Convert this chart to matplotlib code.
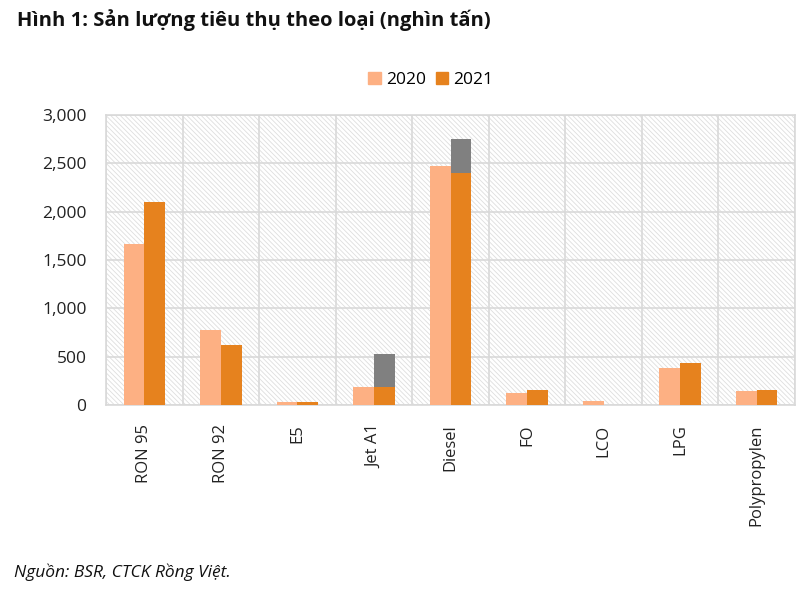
import matplotlib
matplotlib.use("Agg")
import matplotlib.pyplot as plt
import numpy as np
from matplotlib.patches import Rectangle, Patch

plt.rcParams['font.family'] = ['Open Sans', 'DejaVu Sans']
plt.rcParams['hatch.linewidth'] = 0.6

categories = ["RON 95", "RON 92", "E5", "Jet A1", "Diesel", "FO", "LCO", "LPG", "Polypropylen"]
v2020 = [1665, 776, 30, 186, 2472, 128, 41, 386, 141]
v2021 = [2100, 617, 30, 186, 2403, 155, 0, 431, 155]
extra2021 = [0, 0, 0, 345, 345, 0, 0, 0, 0]
yticks = [0, 500, 1000, 1500, 2000, 2500, 3000]

c2020 = "#FDB083"
c2021 = "#E6821E"
cgrey = "#808080"
gridc = "#D9D9D9"

fig = plt.figure(figsize=(8.11, 5.94), dpi=100)
ax = fig.add_axes([106/811, 1-405/594, (795-106)/811, (405-115)/594])

x = np.arange(len(categories))
w = 0.27
ax.bar(x - w/2, v2020, w, color=c2020, zorder=3, label="2020")
ax.bar(x + w/2, v2021, w, color=c2021, zorder=3, label="2021")
ax.bar(x + w/2, extra2021, w, bottom=v2021, color=cgrey, zorder=3)

ax.set_xlim(-0.5, len(categories) - 0.5)
ax.set_ylim(0, 3000)

# hatched background
ax.add_patch(Rectangle((0, 0), 1, 1, transform=ax.transAxes, facecolor="white",
                       edgecolor="#DEDEDE", hatch="\\" * 7, linewidth=0, zorder=0))

ax.set_yticks(yticks)
ax.set_yticklabels([f"{v:,}" for v in yticks], fontsize=12.5, color="#222222")
ax.set_xticks(x)
ax.set_xticklabels(categories, rotation=90, fontsize=12, color="#222222")
ax.tick_params(axis='both', length=0)
ax.tick_params(axis='y', pad=14)
ax.tick_params(axis='x', pad=14)

for yv in yticks:
    ax.axhline(yv, color=gridc, lw=1.2, zorder=1)
for xv in np.arange(-0.5, len(categories), 1):
    ax.axvline(xv, color=gridc, lw=1.2, zorder=1)
for s in ax.spines.values():
    s.set_color(gridc)
    s.set_linewidth(1.2)

handles = [Patch(color=c2020, label="2020"), Patch(color=c2021, label="2021")]
fig.legend(handles=handles, loc="center", bbox_to_anchor=(431/811, 1-80/594), ncol=2,
           frameon=False, fontsize=12.5, handlelength=0.7, handleheight=0.7,
           handletextpad=0.3, columnspacing=0.6)

fig.text(17/811, 1-20/594, "Hình 1: Sản lượng tiêu thụ theo loại (nghìn tấn)",
         fontsize=14.5, fontweight="bold", ha="left", va="center", color="#111111")
fig.text(14/811, 1-572/594, "Nguồn: BSR, CTCK Rồng Việt.", fontsize=12.5,
         style="italic", ha="left", va="center", color="#111111")

fig.savefig("out.png", dpi=100)
